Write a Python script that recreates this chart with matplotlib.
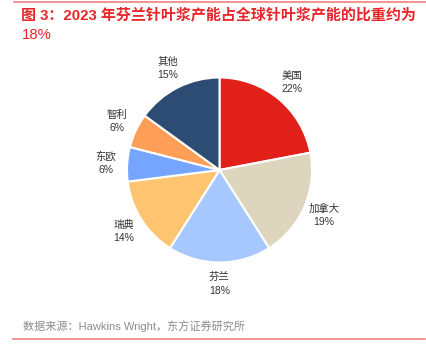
import matplotlib.pyplot as plt

plt.rcParams['font.family'] = ['Liberation Sans', 'Noto Sans CJK SC', 'DejaVu Sans']

# data
labels = ['美国', '加拿大', '芬兰', '瑞典', '东欧', '智利', '其他']
shares = [22, 19, 18, 14, 6, 6, 15]
colors = ['#E1201A', '#DED5BE', '#A7C8FF', '#FFC470', '#76A5FF', '#FF9E57', '#2D4C73']

fig = plt.figure(figsize=(4.27, 3.58), dpi=100)

# pie axes, centre around (219.5,170) px, radius ~92.5 px
r = 92.5
ax = fig.add_axes([(219.5 - r) / 427, 1 - (170 + r) / 358, 2 * r / 427, 2 * r / 358])
wedges, texts = ax.pie(shares, colors=colors, startangle=90, counterclock=False,
                       labels=[f'{l}\n{v}%' for l, v in zip(labels, shares)],
                       labeldistance=1.23,
                       wedgeprops=dict(edgecolor='white', linewidth=1.5),
                       textprops=dict(fontsize=7.5, color='#333333', ha='center', va='center',
                                      linespacing=1.45))
ax.set_xlim(-1, 1)
ax.set_ylim(-1, 1)
ax.set_aspect('equal')

# title
fig.text(21 / 427, 1 - 15 / 358, '图 3：2023 年芬兰针叶浆产能占全球针叶浆产能的比重约为',
         color='#E8262A', fontsize=10.8, fontweight='bold', va='center', ha='left')
fig.text(22 / 427, 1 - 35 / 358, '18%', color='#E8262A', fontsize=10.8,
         va='center', ha='left')
fig.add_artist(plt.Line2D([14 / 427, 1], [1 - 2 / 358] * 2, color='#F08080', linewidth=1.2))

# source
fig.text(23 / 427, 1 - 326 / 358, '数据来源：Hawkins Wright，东方证券研究所',
         color='#8C8C8C', fontsize=8, va='center', ha='left')
fig.add_artist(plt.Line2D([13 / 427, 425 / 427], [1 - 339 / 358] * 2, color='#F08080', linewidth=1.2))

fig.savefig('out.png', dpi=100)
